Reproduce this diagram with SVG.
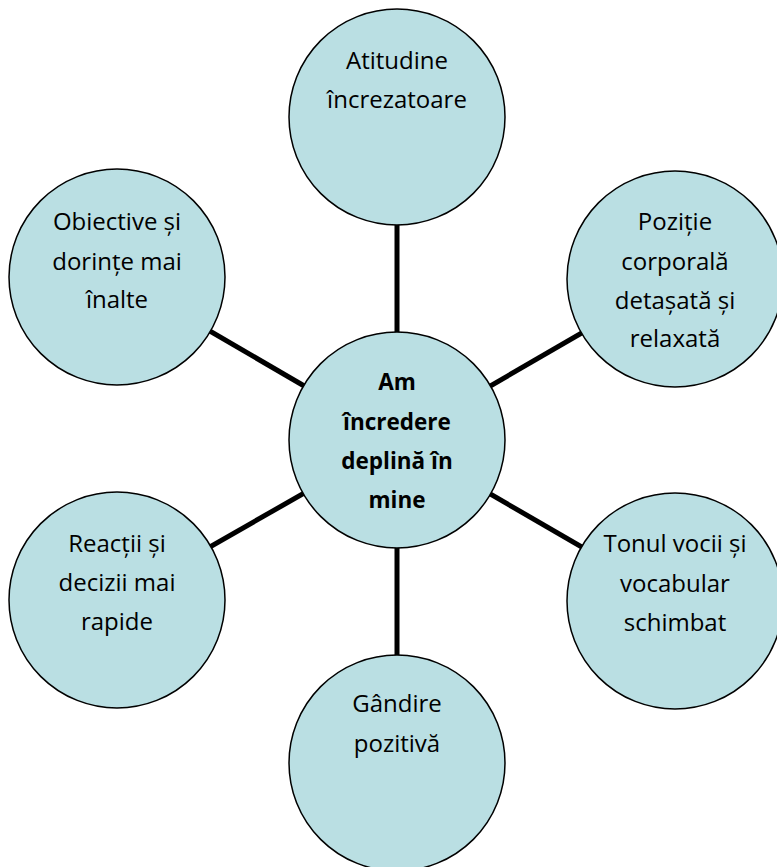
<svg xmlns="http://www.w3.org/2000/svg" width="777" height="867" viewBox="0 0 777 867">
<style>
.n{fill:#badfe3;stroke:#000;stroke-width:1.5}
.t{font-family:"Open Sans","Noto Sans",sans-serif;font-size:24px;fill:#000;text-anchor:middle}
.b{font-weight:bold;font-size:22.5px}
.c{stroke:#000;stroke-width:5;fill:none}
</style>
<rect width="777" height="867" fill="#fff"/>
<g id="connectors">
<line class="c" x1="397" y1="440" x2="397" y2="117"/>
<line class="c" x1="397" y1="440" x2="397" y2="763"/>
<line class="c" x1="397" y1="440" x2="675" y2="279"/>
<line class="c" x1="397" y1="440" x2="675" y2="601"/>
<line class="c" x1="397" y1="440" x2="117" y2="277"/>
<line class="c" x1="397" y1="440" x2="117" y2="600"/>
</g>
<g id="n-top">
<circle class="n" cx="397" cy="117" r="108"/>
<text class="t" x="397" y="69">Atitudine</text>
<text class="t" x="397" y="108">încrezatoare</text>
</g>
<g id="n-topright">
<circle class="n" cx="675" cy="279" r="108"/>
<text class="t" x="675" y="230">Poziție</text>
<text class="t" x="675" y="270">corporală</text>
<text class="t" x="675" y="309">detașată și</text>
<text class="t" x="675" y="347">relaxată</text>
</g>
<g id="n-topleft">
<circle class="n" cx="117" cy="277" r="108"/>
<text class="t" x="117" y="230">Obiective și</text>
<text class="t" x="117" y="270">dorințe mai</text>
<text class="t" x="117" y="308">înalte</text>
</g>
<g id="n-bottomright">
<circle class="n" cx="675" cy="601" r="108"/>
<text class="t" x="675" y="552">Tonul vocii și</text>
<text class="t" x="675" y="592">vocabular</text>
<text class="t" x="675" y="631">schimbat</text>
</g>
<g id="n-bottomleft">
<circle class="n" cx="117" cy="600" r="108"/>
<text class="t" x="117" y="552">Reacții și</text>
<text class="t" x="117" y="591">decizii mai</text>
<text class="t" x="117" y="630">rapide</text>
</g>
<g id="n-bottom">
<circle class="n" cx="397" cy="763" r="108"/>
<text class="t" x="397" y="712">Gândire</text>
<text class="t" x="397" y="752">pozitivă</text>
</g>
<g id="n-center">
<circle class="n" cx="397" cy="440" r="108"/>
<text class="t b" x="397" y="390">Am</text>
<text class="t b" x="397" y="430">încredere</text>
<text class="t b" x="397" y="469">deplină în</text>
<text class="t b" x="397" y="508">mine</text>
</g>
</svg>
